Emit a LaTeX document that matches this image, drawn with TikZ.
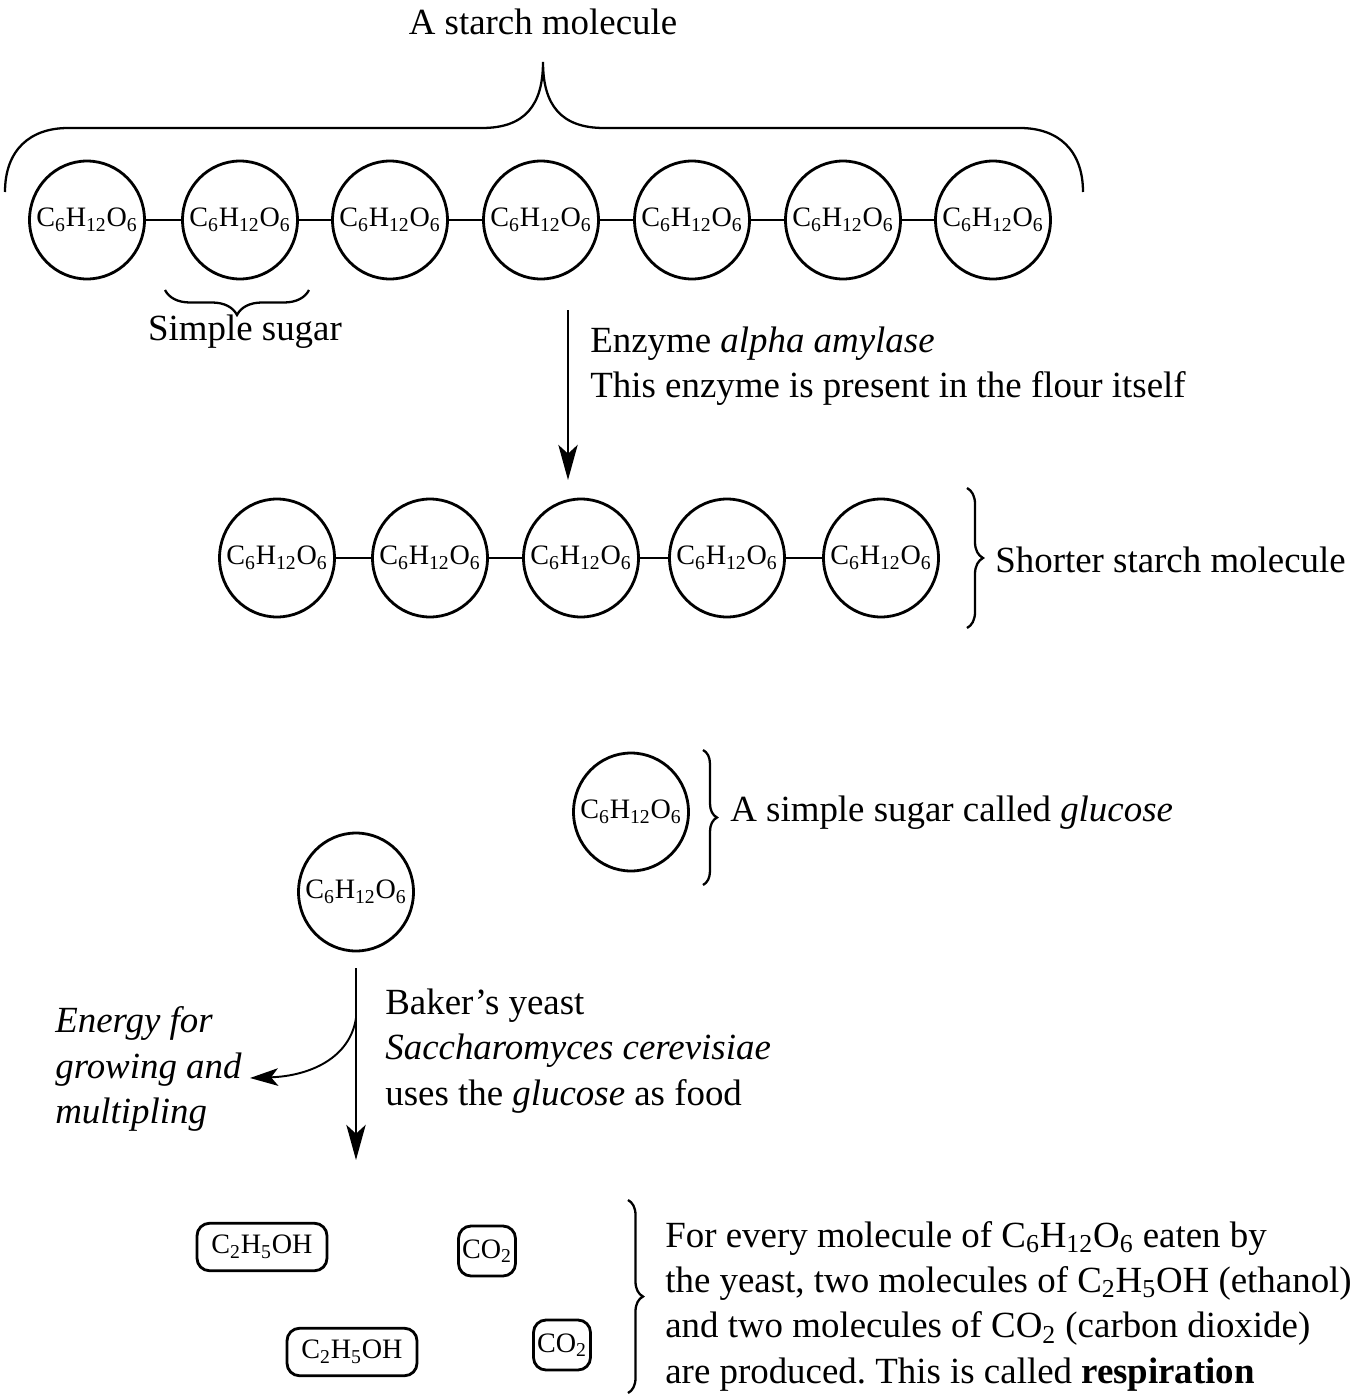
\documentclass[tikz,border=0pt]{standalone}
\usepackage{fontspec}
\setmainfont{Liberation Serif}
\usetikzlibrary{positioning}
\usetikzlibrary{arrows.meta}
\usetikzlibrary{shapes.geometric}
\usetikzlibrary{decorations.pathreplacing}
\frenchspacing

\newcommand{\glu}{C\textsubscript{6}H\textsubscript{12}O\textsubscript{6}}
\newcommand{\gluc}{\makebox[0pt]{\glu}}
\newcommand{\ethl}{C\textsubscript{2}H\textsubscript{5}OH}
\newcommand{\cotwo}{CO\textsubscript{2}}

\tikzset{
	sugar/.style={draw, ellipse, line width=1.6pt, minimum width=2.3cm, minimum height=2.36cm, inner sep=0pt, font=\fontsize{16}{18}\selectfont},
	bond/.style={line width=1.6pt},
	prod/.style={draw, rounded corners=0.25cm, line width=1.6pt, inner sep=2pt, minimum height=0.95cm, font=\fontsize{16}{18}\selectfont},
	lbl/.style={anchor=west, align=left, inner sep=0pt, font=\fontsize{21}{25.8}\selectfont},
	brc/.style={decorate, line width=1.3pt},
	flow/.style={line width=1.1pt, -{Stealth[length=20pt,width=11pt,inset=5pt]}}
}

\begin{document}
\begin{tikzpicture}[x=0.02cm, y=-0.02cm]
			\useasboundingbox (0,0) rectangle (1367,1396);
			
			% The starch molecule
			\foreach \i/\x in {1/87, 2/240, 3/390, 4/541, 5/692, 6/843, 7/993}
			\node[sugar] (s\i) at (\x,220) {\gluc};
			\foreach \i/\j in {1/2, 2/3, 3/4, 4/5, 5/6, 6/7}
			\draw[bond] (s\i) -- (s\j);
			
			% Big brace over the chain
			\coordinate (bl) at (5,192);
			\coordinate (bt) at (543,62);
			\coordinate (br) at (1083,192);
			\draw[line width=1.3pt] (bl) .. controls (5,150) and (30,128) .. (68,128) -- (482,128)
				.. controls (525,128) and (543,105) .. (bt)
				.. controls (543,105) and (561,128) .. (604,128) -- (1020,128)
				.. controls (1058,128) and (1083,150) .. (br);
			\node[font=\fontsize{21}{25}\selectfont] (starch) at (543,22) {A starch molecule};
			
			% Simple sugar brace
			\coordinate (sa) at (165,290);
			\coordinate (sb) at (309,290);
			\draw[brc, decoration={brace, mirror, amplitude=0.5cm}] (sa) -- (sb);
			\node[font=\fontsize{21}{25}\selectfont] (simple) at (245,332) {Simple sugar};
			
			% Enzyme arrow
			\coordinate (e1) at (568,310);
			\coordinate (e2) at (568,480);
			\draw[flow] (e1) -- (e2);
			\node[lbl] (enz) at (590,366) {Enzyme \textit{alpha amylase}\\This enzyme is present in the flour itself};
			
			% Shorter starch molecule
			\foreach \i/\x in {1/277, 2/430, 3/581, 4/727, 5/881}
			\node[sugar] (t\i) at (\x,558) {\gluc};
			\foreach \i/\j in {1/2, 2/3, 3/4, 4/5}
			\draw[bond] (t\i) -- (t\j);
			\coordinate (ta) at (967,488);
			\coordinate (tb) at (967,628);
			\draw[brc, decoration={brace, amplitude=0.32cm}] (ta) -- (tb);
			\node[lbl] (shorter) at (995,560) {Shorter starch molecule};
			
			% Glucose
			\node[sugar] (g) at (631,812) {\gluc};
			\coordinate (ga) at (703,750);
			\coordinate (gb) at (703,885);
			\draw[brc, decoration={brace, amplitude=0.28cm}] (ga) -- (gb);
			\node[lbl] (gluc) at (730,813) {A simple sugar called \textit{glucose}};
			
			% Yeast step
			\node[sugar] (y) at (356,892) {\gluc};
			\coordinate (y1) at (356,968);
			\coordinate (split) at (356,1018);
			\coordinate (y2) at (356,1160);
			\coordinate (en) at (250,1078);
			\draw[flow] (y1) -- (y2);
			\draw[flow, -{Stealth[length=16pt,width=10pt,inset=4pt]}] (split) .. controls (350,1058) and (310,1076) .. (en);
			\node[lbl] (energy) at (55,1069) {\textit{Energy for}\\\textit{growing and}\\\textit{multipling}};
			\node[lbl] (yeast) at (385,1051) {Baker's yeast\\\textit{Saccharomyces cerevisiae}\\uses the \textit{glucose} as food};
			
			% Products
			\node[prod, minimum width=2.6cm] (p1) at (262,1247) {\ethl};
			\node[prod, minimum width=1.14cm, minimum height=1.0cm] (c1) at (487,1251) {\cotwo};
			\node[prod, minimum width=2.6cm] (p2) at (352,1352) {\ethl};
			\node[prod, minimum width=1.14cm, minimum height=1.0cm] (c2) at (562,1345) {\cotwo};
			\coordinate (ra) at (628,1200);
			\coordinate (rb) at (628,1393);
			\draw[brc, decoration={brace, amplitude=0.3cm}] (ra) -- (rb);
			\node[lbl] (resp) at (665,1306) {For every molecule of \glu{} eaten by\\the yeast, two molecules of \ethl{} (ethanol)\\and two molecules of \cotwo{} (carbon dioxide)\\are produced. This is called \textbf{respiration}};
\end{tikzpicture}
\end{document}
